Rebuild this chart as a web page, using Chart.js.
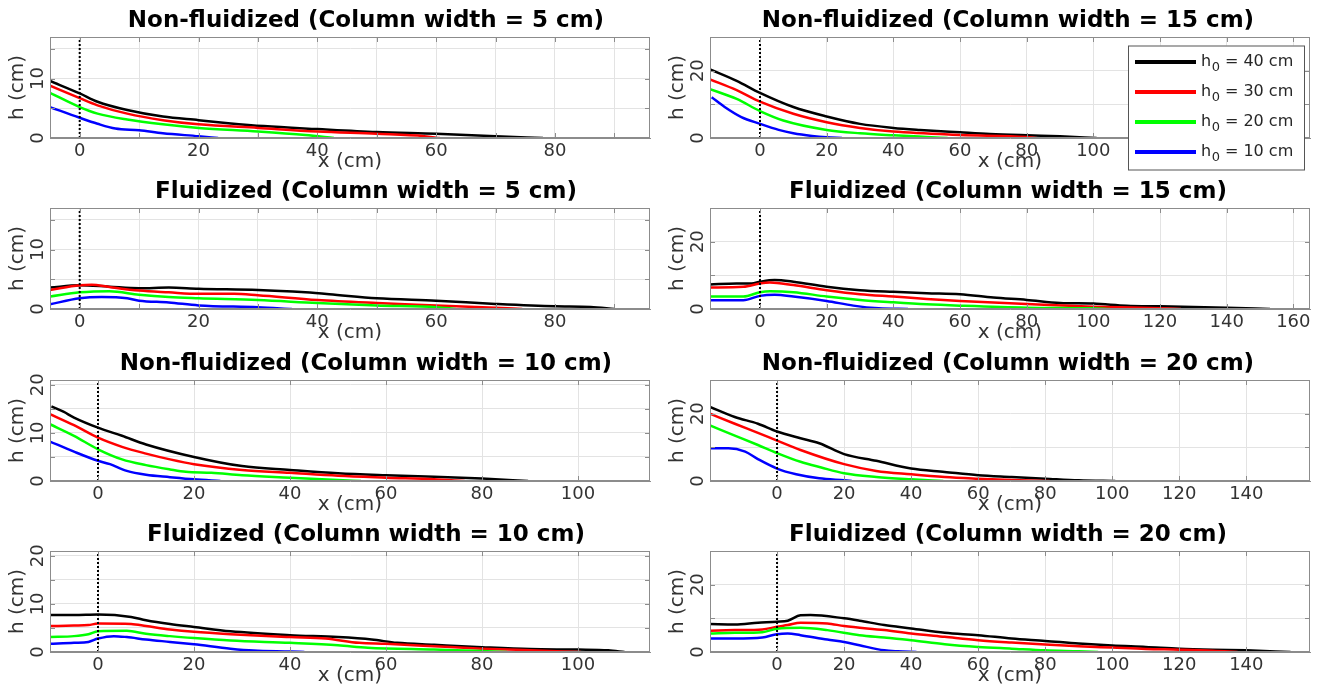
<!DOCTYPE html>
<html>
<head>
<meta charset="utf-8">
<title>Perfis h(x)</title>
<script src="https://cdn.jsdelivr.net/npm/chart.js@4.4.1/dist/chart.umd.min.js"></script>
<style>
  html, body { margin: 0; padding: 0; background: #fff; }
  #figura { position: relative; width: 1322px; height: 689px; overflow: hidden; }
  #figura canvas { position: absolute; }
</style>
</head>
<body>
<div id="figura"></div>
<script>
// séries: h0 = 40, 30, 20, 10 cm
const H0     = [40, 30, 20, 10];
const CORES  = ['#000000', '#ff0000', '#00ff00', '#0000ff'];

const TITULOS = [
  'Non-fluidized (Column width = 5 cm)',  'Non-fluidized (Column width = 15 cm)',
  'Fluidized (Column width = 5 cm)',      'Fluidized (Column width = 15 cm)',
  'Non-fluidized (Column width = 10 cm)', 'Non-fluidized (Column width = 20 cm)',
  'Fluidized (Column width = 10 cm)',     'Fluidized (Column width = 20 cm)'
];

// limites e passos dos eixos, um por painel
const X_MIN      = [-5, -15, -5, -15, -10, -20, -10, -20];
const X_MAX      = [96, 165, 96, 165, 115, 159, 115, 159];
const X_GRADE    = [10, 20, 10, 20, 20, 20, 20, 20];
const X_ROTULO   = 20;
const X_ULTIMO   = [80, 100, 80, 160, 100, 140, 100, 140];  // último rótulo visível
const Y_MAX      = [17, 30, 17, 30, 21, 30, 21, 30];
const Y_GRADE    = [5, 10, 5, 10, 5, 10, 5, 10];
const Y_ROTULO   = [10, 20, 10, 20, 10, 20, 10, 20];

// Non-fluidized, 5 cm
const nf5_40 = [[-5,9.6],[0,7.5],[3,6.1],[8,4.7],[14,3.6],[20,3.0],[25,2.5],[31,2.0],[40,1.5],[50,1.0],[60,0.7],[70,0.3],[78,0]];
const nf5_30 = [[-5,8.8],[0,6.7],[3,5.5],[8,4.1],[14,3.0],[20,2.3],[30,1.7],[40,1.1],[50,0.7],[58,0.3],[60.6,0]];
const nf5_20 = [[-5,7.6],[0,5.2],[3,4.1],[8,3.1],[14,2.3],[20,1.7],[30,1.1],[38,0.5],[42.8,0]];
const nf5_10 = [[-5,5.2],[0,3.4],[3,2.4],[6,1.6],[10,1.3],[14,0.8],[20,0.3],[23.3,0]];

// Non-fluidized, 15 cm
const nf15_40 = [[-15,20.4],[-7,17],[0,13.4],[10,9.2],[20,6.4],[30,4.2],[40,3.0],[48,2.4],[60,1.7],[69,1.2],[80,0.8],[90,0.5],[101,0]];
const nf15_30 = [[-15,17.4],[-7,14.2],[0,10.8],[10,7.2],[20,4.7],[30,3.0],[40,1.9],[60,0.9],[80,0.3],[83,0]];
const nf15_20 = [[-15,14.5],[-7,11.6],[0,8.0],[7,5.2],[20,2.4],[30,1.4],[40,0.8],[50,0.3],[56.3,0]];
const nf15_10 = [[-14.5,12.1],[-10.6,9.2],[-5.6,6.2],[0,4.2],[5.6,2.4],[10,1.4],[15.6,0.6],[20,0.2],[24.6,0]];

// Fluidized, 5 cm
const f5_40 = [[-5,3.6],[0,4.0],[5,3.75],[10,3.5],[15,3.6],[20,3.4],[30,3.2],[38,2.8],[42,2.5],[50,1.8],[60,1.4],[70,0.85],[80,0.45],[86,0.35],[90,0]];
const f5_30 = [[-5,3.2],[0,4.0],[2,4.1],[5,3.7],[10,3.1],[15,2.8],[20,2.55],[26,2.55],[30,2.3],[40,1.5],[50,1.0],[60,0.6],[70,0.2],[74.5,0]];
const f5_20 = [[-5,2.1],[0,2.8],[5,3.0],[10,2.4],[15,2.0],[20,1.8],[30,1.5],[40,1.0],[50,0.6],[60,0.3],[63.3,0]];
const f5_10 = [[-5,0.8],[0,1.8],[3.7,2.0],[8,1.8],[10,1.4],[15,1.1],[20,0.6],[30,0.3],[35.7,0]];

// Fluidized, 15 cm
const f15_40 = [[-15,7.3],[-7,7.6],[-2.5,7.6],[0,8.1],[4.4,8.6],[10,8.1],[20,6.6],[30,5.6],[40,5.1],[50,4.7],[60,4.4],[70,3.4],[80,2.7],[90,1.8],[100,1.6],[110,1.0],[120,0.8],[130,0.6],[140,0.4],[153,0]];
const f15_30 = [[-15,6.4],[-5,6.6],[0,7.6],[3,7.9],[10,7.1],[20,5.6],[30,4.4],[40,3.7],[50,3.0],[60,2.4],[80,1.5],[100,0.7],[120,0.2],[126.3,0]];
const f15_20 = [[-15,3.7],[-5,3.7],[0,5.0],[3,5.3],[10,5.0],[20,3.7],[30,2.7],[40,2.0],[50,1.4],[60,1.0],[80,0.4],[100,0.2],[105,0]];
const f15_10 = [[-15,2.6],[-5,2.6],[0,3.9],[4.4,4.2],[10,3.7],[20,2.4],[28,1.0],[35.6,0.2],[44.4,0]];

// Non-fluidized, 10 cm
const nf10_40 = [[-9.7,15.5],[-7.2,14.4],[-5,13.2],[0,11.1],[5,9.4],[10,7.6],[20,5.0],[30,3.1],[40,2.3],[50,1.6],[60,1.2],[70,0.9],[80,0.5],[89.6,0]];
const nf10_30 = [[-10,13.9],[-5,11.6],[0,9.0],[5,7.1],[10,5.7],[15,4.5],[20,3.5],[30,2.3],[40,1.7],[50,1.1],[60,0.7],[70,0.35],[76.4,0]];
const nf10_20 = [[-10,11.8],[-5,9.4],[0,6.6],[5,4.5],[10,3.3],[15,2.4],[18.3,1.9],[23.6,1.7],[30,1.2],[40,0.7],[50,0.2],[54.8,0]];
const nf10_10 = [[-10,8.2],[-5,6.1],[0,4.2],[2.5,3.5],[6,2.1],[10,1.3],[15,0.8],[20,0.35],[25.5,0]];

// Non-fluidized, 20 cm
const nf20_40 = [[-20,22],[-12.6,19],[-5.7,17],[0,14.7],[7,12.7],[12.6,11.2],[20,8.0],[29.6,6.0],[40,3.7],[50,2.7],[60,1.7],[70,1.2],[80,0.7],[90,0.2],[100.9,0]];
const nf20_30 = [[-20,20],[-12.6,17],[-5.7,14.3],[0,12],[7,9.2],[20,5.0],[29.6,3.0],[40,2.0],[50,1.2],[60,0.7],[70,0.3],[81.3,0]];
const nf20_20 = [[-20,16.5],[-12.6,13.5],[-5.7,10.7],[0,8.3],[7,5.7],[13.2,4.0],[20,2.3],[29.6,1.2],[40,0.5],[49.6,0]];
const nf20_10 = [[-20,9.7],[-14.5,9.7],[-9.5,8.7],[-5.7,6.5],[0,3.7],[5.7,2.0],[12.6,0.8],[20,0.2],[22.3,0]];

// Fluidized, 10 cm
const f10_40 = [[-10,7.7],[-5,7.7],[0,7.8],[6.9,7.3],[10,6.6],[15,5.8],[20,5.2],[27.6,4.3],[40,3.5],[50,3.1],[57,2.6],[62.3,1.9],[70,1.5],[80,1.0],[90,0.6],[100,0.5],[106.3,0.35],[109.7,0]];
const f10_30 = [[-10,5.4],[-5,5.5],[-2,5.6],[0,5.9],[6.9,5.8],[10,5.4],[15,4.7],[20,4.2],[27.6,3.7],[40,3.1],[47.4,2.8],[54.4,1.9],[60,1.7],[70,1.2],[80,0.7],[90,0.35],[100.6,0]];
const f10_20 = [[-10,3.1],[-5,3.3],[-2,3.7],[0,4.3],[6,4.4],[10,3.8],[15,3.3],[20,2.9],[27.6,2.4],[40,1.9],[50,1.4],[56.2,0.9],[70,0.5],[80,0.2],[85.2,0]];
const f10_10 = [[-10,1.7],[-5,1.9],[-2,2.1],[0,2.8],[3.3,3.3],[6,3.1],[10,2.6],[15,2.1],[20,1.6],[27.6,0.7],[32.4,0.3],[40,0.1],[43,0]];

// Fluidized, 20 cm
const f20_40 = [[-20,8.3],[-12.6,8.2],[-5.7,8.7],[0,9.0],[3.2,9.3],[7,10.9],[10,11.0],[20,10.0],[24.6,9.3],[32,8.0],[40,7.0],[50,5.7],[60,5.0],[70,4.0],[80,3.3],[90,2.5],[100,1.9],[110,1.5],[120,1.0],[130,0.7],[140,0.5],[153.2,0]];
const f20_30 = [[-20,6.3],[-12.6,6.5],[-4.4,6.7],[0,7.5],[3.2,8.0],[7,8.7],[15,8.5],[20,7.7],[32,6.5],[40,5.5],[50,4.5],[60,3.5],[70,2.8],[80,2.2],[90,1.7],[100,1.3],[110,0.9],[120,0.7],[130,0.4],[137.4,0]];
const f20_20 = [[-20,5.5],[-12.6,5.7],[-4.4,5.9],[0,6.9],[7,7.2],[15,6.5],[24.6,5.0],[32,4.3],[40,3.5],[50,2.3],[60,1.5],[70,1.0],[80,0.5],[90,0.2],[95.8,0]];
const f20_10 = [[-20,4.0],[-12.6,4.0],[-4.4,4.3],[0,5.3],[3.2,5.5],[7,5.0],[15,3.7],[20,3.0],[24.6,2.0],[32,0.5],[36,0.2],[41.6,0]];

const PAINEIS = [
  [nf5_40, nf5_30, nf5_20, nf5_10],     [nf15_40, nf15_30, nf15_20, nf15_10],
  [f5_40, f5_30, f5_20, f5_10],         [f15_40, f15_30, f15_20, f15_10],
  [nf10_40, nf10_30, nf10_20, nf10_10], [nf20_40, nf20_30, nf20_20, nf20_10],
  [f10_40, f10_30, f10_20, f10_10],     [f20_40, f20_30, f20_20, f20_10]
];

// layout da figura
const TOPO_LINHA = [0, 171, 343, 514];
const LARG = 660, ALT = 174;
const FONTE = '"DejaVu Sans", "Liberation Sans", sans-serif';
const COR_TEXTO = '#333333';
const COR_GRADE = '#e3e3e3';
const COR_CAIXA = '#8c8c8c';

Chart.defaults.font.family = FONTE;
Chart.defaults.color = COR_TEXTO;

// marcas alinhadas ao passo (o Chart.js desloca quando o min não é múltiplo)
function marcas(min, max, passo) {
  const out = [];
  for (let v = Math.ceil(min / passo) * passo; v <= max + 1e-9; v += passo) out.push({ value: v });
  return out;
}

// caixa completa + marcas internas (estilo MATLAB)
const pluginCaixa = {
  id: 'caixa',
  afterDatasetsDraw(chart) {
    const { ctx, chartArea: a, scales } = chart;
    ctx.save();
    ctx.strokeStyle = COR_CAIXA;
    ctx.lineWidth = 1;
    ctx.strokeRect(a.left + 0.5, a.top + 0.5, a.width - 1, a.height - 1);
    ctx.beginPath();
    scales.x.ticks.forEach(t => {
      const px = Math.round(scales.x.getPixelForValue(t.value)) + 0.5;
      ctx.moveTo(px, a.top); ctx.lineTo(px, a.top + 5);
      ctx.moveTo(px, a.bottom); ctx.lineTo(px, a.bottom - 5);
    });
    scales.y.ticks.forEach(t => {
      const py = Math.round(scales.y.getPixelForValue(t.value)) + 0.5;
      ctx.moveTo(a.right, py); ctx.lineTo(a.right - 5, py);
      ctx.moveTo(a.left, py); ctx.lineTo(a.left + 5, py);
    });
    ctx.stroke();
    ctx.restore();
  }
};

// título em negrito, um pouco deslocado como no original
const pluginTitulo = {
  id: 'tituloPainel',
  afterDraw(chart, args, opts) {
    const { ctx, chartArea: a } = chart;
    ctx.save();
    ctx.font = 'bold 23px ' + FONTE;
    ctx.fillStyle = '#000';
    ctx.textAlign = 'center';
    ctx.textBaseline = 'middle';
    ctx.fillText(opts.texto, (a.left + a.right) / 2 + opts.desloc, 21);
    ctx.restore();
  }
};

// legenda com h0 subscrito
const pluginLegenda = {
  id: 'legendaH0',
  afterDraw(chart, args, opts) {
    if (!opts.mostrar) return;
    const { ctx, chartArea: a } = chart;
    const x0 = a.right - 182, y0 = a.top + 8.5, w = 176, h = 124;
    ctx.save();
    ctx.fillStyle = '#fff';
    ctx.fillRect(x0, y0, w, h);
    ctx.strokeStyle = '#555';
    ctx.lineWidth = 1;
    ctx.strokeRect(x0 + 0.5, y0 + 0.5, w, h);
    H0.forEach((v, k) => {
      const y = y0 + 16.5 + k * 30;
      ctx.strokeStyle = CORES[k];
      ctx.lineWidth = 4;
      ctx.beginPath();
      ctx.moveTo(x0 + 7, y); ctx.lineTo(x0 + 68, y);
      ctx.stroke();
      ctx.fillStyle = '#262626';
      ctx.textBaseline = 'middle';
      ctx.textAlign = 'left';
      let tx = x0 + 73;
      ctx.font = '16px ' + FONTE;
      ctx.fillText('h', tx, y);
      tx += ctx.measureText('h').width + 0.5;
      ctx.font = '13px ' + FONTE;
      ctx.fillText('0', tx, y + 6);
      tx += ctx.measureText('0').width + 1;
      ctx.font = '16px ' + FONTE;
      ctx.fillText('= ' + v + ' cm', tx + 4, y);
    });
    ctx.restore();
  }
};

function criarPainel(i) {
  const col = i % 2, lin = Math.floor(i / 2);
  const cv = document.createElement('canvas');
  cv.width = LARG; cv.height = ALT;
  cv.style.left = (col * 660) + 'px';
  cv.style.top  = TOPO_LINHA[lin] + 'px';
  document.getElementById('figura').appendChild(cv);

  const xMin = X_MIN[i], xMax = X_MAX[i], yMax = Y_MAX[i];

  const datasets = PAINEIS[i].map((pts, k) => ({
    data: pts.map(p => ({ x: p[0], y: p[1] })),
    borderColor: CORES[k],
    borderWidth: 2.5,
    pointRadius: 0,
    fill: false,
    cubicInterpolationMode: 'monotone',
    order: 4 - k
  }));
  // linha pontilhada em x = 0
  datasets.push({
    data: [{ x: 0, y: 0 }, { x: 0, y: yMax }],
    borderColor: '#000',
    borderWidth: 2,
    borderDash: [2, 2],
    pointRadius: 0,
    fill: false,
    order: -1
  });

  return new Chart(cv.getContext('2d'), {
    type: 'line',
    data: { datasets },
    plugins: [pluginCaixa, pluginTitulo, pluginLegenda],
    options: {
      responsive: false,
      animation: false,
      devicePixelRatio: 1,
      layout: { padding: { top: 37, right: 10, bottom: 0, left: 0 } },
      plugins: {
        legend: { display: false },
        tooltip: { enabled: false },
        tituloPainel: { texto: TITULOS[i], desloc: col === 0 ? 16 : -2 },
        legendaH0: { mostrar: i === 1 }
      },
      scales: {
        x: {
          type: 'linear',
          min: xMin, max: xMax,
          afterBuildTicks: s => { s.ticks = marcas(xMin, xMax, X_GRADE[i]); },
          afterFit: s => { s.height = 36; s.paddingLeft = 0; s.paddingRight = 0; },
          border: { color: COR_CAIXA },
          grid: { color: COR_GRADE, drawTicks: false },
          ticks: {
            autoSkip: false, maxRotation: 0, padding: 3,
            color: COR_TEXTO, font: { size: 18 },
            callback: v => (v >= 0 && v % X_ROTULO === 0 && v <= X_ULTIMO[i]) ? v : ''
          },
          title: { display: true, text: 'x (cm)', color: COR_TEXTO, font: { size: 20 }, padding: { top: 0, bottom: 0 } }
        },
        y: {
          type: 'linear',
          min: 0, max: yMax,
          afterBuildTicks: s => { s.ticks = marcas(0, yMax, Y_GRADE[i]); },
          afterFit: s => { s.width = 50; s.paddingTop = 0; s.paddingBottom = 0; },
          border: { color: COR_CAIXA },
          grid: { color: COR_GRADE, drawTicks: false },
          ticks: {
            autoSkip: false, minRotation: 90, maxRotation: 90,
            crossAlign: 'center', padding: 0,
            color: COR_TEXTO, font: { size: 18 },
            callback: v => (v % Y_ROTULO[i] === 0 && v < yMax) ? v : ''
          },
          title: { display: true, text: 'h (cm)', color: COR_TEXTO, font: { size: 20 }, padding: { top: 6, bottom: 0 } }
        }
      }
    }
  });
}

for (let i = 0; i < 8; i++) criarPainel(i);
</script>
</body>
</html>
